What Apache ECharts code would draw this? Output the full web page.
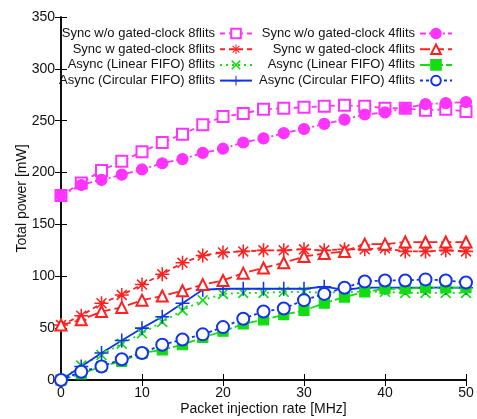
<!DOCTYPE html>
<html>
<head>
<meta charset="utf-8">
<script src="https://cdn.jsdelivr.net/npm/echarts@6/dist/echarts.min.js"></script>
<style>
  html, body { margin: 0; padding: 0; background: #fff; }
  #chart { width: 477px; height: 419px; }
</style>
</head>
<body>
<div id="chart"></div>
<script>
// packet injection rate [MHz]
const rates = [0, 2.5, 5, 7.5, 10, 12.5, 15, 17.5, 20, 22.5, 25, 27.5, 30, 32.5, 35, 37.5, 40, 42.5, 45, 47.5, 50]

// total power [mW]
const syncNoGate8 = [178, 190, 202, 211, 220, 229, 237, 246, 254, 257, 261, 262, 263, 264, 265, 264, 262, 262, 260, 261, 259]
const syncGate8 = [53, 62, 74, 82, 92, 102, 113, 120, 123, 124, 125, 125, 126, 125, 126, 126, 127, 124, 124, 125, 124]
const asyncLinear8 = [0, 14, 24, 35, 45, 56, 67, 77, 83, 84, 84, 85, 85, 84, 85, 85, 85, 84, 84, 84, 84]
const asyncCircular8 = [0, 13, 26, 38, 50, 61, 74, 87, 88, 88, 88, 88, 88, 90, 87, 89, 89, 89, 89, 89, 89]
const syncNoGate4 = [178, 188, 193, 198, 203, 209, 213, 219, 223, 229, 233, 238, 242, 247, 251, 256, 258, 262, 266, 267, 268]
const syncGate4 = [53, 58, 66, 70, 77, 81, 86, 92, 96, 103, 108, 113, 119, 122, 124, 131, 131, 133, 133, 133, 133]
const asyncLinear4 = [0, 6, 13, 18, 26, 29, 34, 41, 47, 54, 58, 63, 67, 74, 80, 85, 88, 88, 89, 89, 89]
const asyncCircular4 = [0, 8, 13, 20, 26, 34, 39, 44, 51, 59, 66, 69, 77, 83, 89, 95, 96, 96, 97, 96, 94]

const xTicks = [0, 10, 20, 30, 40, 50]
const yTicks = [0, 50, 100, 150, 200, 250, 300, 350]

const names8 = [
  'Sync w/o gated-clock 8flits',
  'Sync w gated-clock 8flits',
  'Async (Linear FIFO) 8flits',
  'Async (Circular FIFO) 8flits'
]
const names4 = [
  'Sync w/o gated-clock 4flits',
  'Sync w gated-clock 4flits',
  'Async (Linear FIFO) 4flits',
  'Async (Circular FIFO) 4flits'
]

const FONT = 'Liberation Sans'
const MAGENTA = '#ff33ff'
const RED = '#ff2020'
const GREEN = '#11dd11'
const BLUE = '#1133ee'

// 细线条拼成的符号（+、×、*）
const bars = (angles, t) => {
  let d = ''
  angles.forEach(a => {
    const r = a * Math.PI / 180
    const c = Math.cos(r), s = Math.sin(r)
    const pts = [[-10, -t], [10, -t], [10, t], [-10, t]].map(([x, y]) =>
      [(x * c - y * s).toFixed(2), (x * s + y * c).toFixed(2)])
    d += 'M' + pts.map(p => p.join(',')).join(' L') + ' Z '
  })
  return 'path://' + d
}
const plusSym = bars([0, 90], 1.1)
const crossSym = bars([45, 135], 1.2)
const starSym = bars([0, 45, 90, 135], 1.1)

const pairs = arr => rates.map((x, i) => [x, arr[i]])

const mk = (name, data, color, dash, symbol, size, border = 1.2) => ({
  name,
  type: 'line',
  data: pairs(data),
  symbol,
  symbolSize: size,
  showAllSymbol: true,
  animation: false,
  lineStyle: { color, width: 1.8, type: dash },
  itemStyle: { color, borderColor: color, borderWidth: border },
  emphasis: { disabled: true }
})

const series = [
  mk(names8[0], syncNoGate8, MAGENTA, [5, 4], 'emptyRect', 11),
  mk(names8[1], syncGate8, RED, [5, 4], starSym, 14, 0),
  mk(names8[2], asyncLinear8, GREEN, [2, 4], crossSym, 11, 0),
  mk(names8[3], asyncCircular8, BLUE, 'solid', plusSym, 14, 0),
  mk(names4[0], syncNoGate4, MAGENTA, [6, 3, 2, 3], 'circle', 11),
  mk(names4[1], syncGate4, RED, [10, 4], 'emptyTriangle', 11),
  mk(names4[2], asyncLinear4, GREEN, [10, 3], 'rect', 10),
  mk(names4[3], asyncCircular4, BLUE, [3, 3], 'emptyCircle', 12)
]

const legendBase = {
  orient: 'vertical',
  align: 'right',
  top: 27,
  padding: 0,
  itemWidth: 32,
  itemHeight: 12,
  itemGap: 2.7,
  selectedMode: false,
  textStyle: { fontFamily: FONT, fontSize: 13, color: '#111' }
}

const axisCommon = {
  axisLine: { show: true, lineStyle: { color: '#000', width: 1.5 } },
  axisTick: { show: true, inside: true, length: 6, lineStyle: { color: '#000' } },
  splitLine: { show: false },
  axisLabel: { fontFamily: FONT, fontSize: 14, color: '#111' }
}

const option = {
  backgroundColor: '#fff',
  animation: false,
  grid: { left: 61, right: 11, top: 17, bottom: 39, outerBoundsMode: 'none' },
  legend: [
    Object.assign({}, legendBase, { right: 224, data: names8 }),
    Object.assign({}, legendBase, { right: 24, data: names4 })
  ],
  xAxis: [
    Object.assign({}, axisCommon, {
      type: 'value', min: xTicks[0], max: xTicks[xTicks.length - 1], interval: 10,
      name: 'Packet injection rate [MHz]', nameLocation: 'middle', nameGap: 22,
      nameMoveOverlap: false,
      nameTextStyle: { fontFamily: FONT, fontSize: 14, color: '#111' },
      axisLabel: Object.assign({}, axisCommon.axisLabel, { margin: 6 })
    }),
    Object.assign({}, axisCommon, {
      type: 'value', position: 'top', min: xTicks[0], max: xTicks[xTicks.length - 1], interval: 10,
      axisLabel: { show: false }
    })
  ],
  yAxis: [
    Object.assign({}, axisCommon, {
      type: 'value', min: yTicks[0], max: yTicks[yTicks.length - 1], interval: 50,
      name: 'Total power [mW]', nameLocation: 'middle', nameGap: 32,
      nameMoveOverlap: false,
      nameTextStyle: { fontFamily: FONT, fontSize: 14, color: '#111' },
      axisLabel: Object.assign({}, axisCommon.axisLabel, { margin: 6 })
    }),
    Object.assign({}, axisCommon, {
      type: 'value', position: 'right', min: yTicks[0], max: yTicks[yTicks.length - 1], interval: 50,
      axisLabel: { show: false }
    })
  ],
  series
}

const chart = echarts.init(document.getElementById('chart'), null, { renderer: 'canvas' })
chart.setOption(option)
</script>
</body>
</html>
